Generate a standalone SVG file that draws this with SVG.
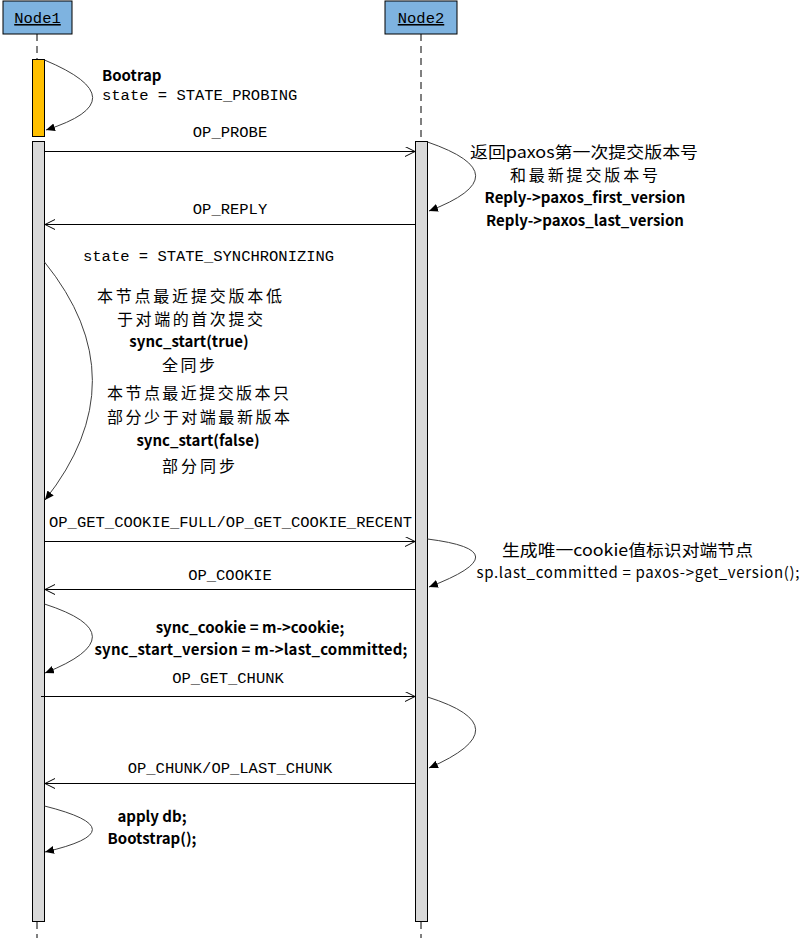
<svg xmlns="http://www.w3.org/2000/svg" width="800" height="938" viewBox="0 0 800 938">
<defs>
<marker id="open" markerWidth="12" markerHeight="12" refX="10" refY="5" orient="auto" markerUnits="userSpaceOnUse">
<path d="M0,0 L10,5 L0,10" fill="none" stroke="#000" stroke-width="1"/>
</marker>
<marker id="filled" markerWidth="10" markerHeight="10" refX="9" refY="4" orient="auto" markerUnits="userSpaceOnUse">
<path d="M0,0 L9,4 L0,8 Z" fill="#000"/>
</marker>
</defs>
<style>
.box{fill:#7EB3E0;stroke:#000;stroke-width:1}
.life{stroke:#000;stroke-width:1;stroke-dasharray:7 5}
.act{fill:#D9D9D9;stroke:#000;stroke-width:1}
.msg{stroke:#000;stroke-width:1;fill:none;marker-end:url(#open)}
.loop{stroke:#404040;stroke-width:1;fill:none;marker-end:url(#filled)}
.mono{font-family:"Liberation Mono","DejaVu Sans Mono",monospace;font-size:15.5px;fill:#000}
.cn{font-family:"Noto Sans CJK SC","Noto Sans",sans-serif;font-size:15px;fill:#000;text-anchor:middle}
.zh{font-size:16px}
.b{font-weight:600}
.mid{text-anchor:middle}
</style>
<rect width="800" height="938" fill="#fff"/>
<g id="node1">
<line class="life" x1="37" y1="34" x2="37" y2="938"/>
<rect class="box" x="3" y="1" width="69" height="33"/>
<text class="mono mid" x="37.5" y="23" text-decoration="underline">Node1</text>
<rect x="32.5" y="59.5" width="12" height="77" fill="#FFC000" stroke="#000"/>
<rect class="act" x="32.5" y="141.5" width="12" height="780"/>
</g>
<g id="node2">
<line class="life" x1="421" y1="34" x2="421" y2="938"/>
<rect class="box" x="385" y="1" width="72" height="33"/>
<text class="mono mid" x="421" y="23" text-decoration="underline">Node2</text>
<rect class="act" x="415.5" y="141.5" width="12" height="780"/>
</g>
<g id="connectors">
<path class="loop" d="M44.5,60 Q140,100 46,130"/>
<line class="msg" x1="45" y1="151.5" x2="415" y2="151.5"/>
<path class="loop" d="M427.5,142 Q523,175 429,211"/>
<line class="msg" x1="415" y1="224.5" x2="45" y2="224.5"/>
<path class="loop" d="M44.5,262 Q140,380 45,500"/>
<line class="msg" x1="45" y1="541.5" x2="415" y2="541.5"/>
<path class="loop" d="M427.5,539 Q523,551 429,587"/>
<line class="msg" x1="415" y1="589.5" x2="45" y2="589.5"/>
<path class="loop" d="M44.5,604 Q140,635 45,673"/>
<line class="msg" x1="41" y1="696.5" x2="415" y2="696.5"/>
<path class="loop" d="M427.5,697 Q523,727 429,768"/>
<line class="msg" x1="415" y1="783.5" x2="45" y2="783.5"/>
<path class="loop" d="M44.5,806 Q140,830 45,852"/>
</g>
<g id="labels">
<text class="cn b" x="102" y="81" style="text-anchor:start">Bootrap</text>
<text class="mono" x="102" y="100">state = STATE_PROBING</text>
<text class="mono mid" x="230" y="137">OP_PROBE</text>
<text class="cn zh" x="584" y="158" textLength="228" lengthAdjust="spacingAndGlyphs">返回paxos第一次提交版本号</text>
<text class="cn zh" x="584" y="181" textLength="148">和最新提交版本号</text>
<text class="cn b" x="585" y="203">Reply-&gt;paxos_first_version</text>
<text class="cn b" x="585" y="226">Reply-&gt;paxos_last_version</text>
<text class="mono mid" x="230" y="214">OP_REPLY</text>
<text class="mono" x="83" y="261">state = STATE_SYNCHRONIZING</text>
<text class="cn zh" x="189.5" y="302" textLength="185">本节点最近提交版本低</text>
<text class="cn zh" x="190" y="325" textLength="146">于对端的首次提交</text>
<text class="cn b" x="189" y="347">sync_start(true)</text>
<text class="cn zh" x="188.5" y="371" textLength="53">全同步</text>
<text class="cn zh" x="198" y="399" textLength="182">本节点最近提交版本只</text>
<text class="cn zh" x="198.5" y="423" textLength="183">部分少于对端最新版本</text>
<text class="cn b" x="198" y="446">sync_start(false)</text>
<text class="cn zh" x="198.5" y="472" textLength="73">部分同步</text>
<text class="mono" x="49" y="527" textLength="363">OP_GET_COOKIE_FULL/OP_GET_COOKIE_RECENT</text>
<text class="cn zh" x="627.5" y="556" textLength="251" lengthAdjust="spacingAndGlyphs">生成唯一cookie值标识对端节点</text>
<text class="cn" x="638" y="578" textLength="323">sp.last_committed = paxos-&gt;get_version();</text>
<text class="mono mid" x="230" y="580">OP_COOKIE</text>
<text class="cn b" x="250" y="633">sync_cookie = m-&gt;cookie;</text>
<text class="cn b" x="251" y="655" textLength="313">sync_start_version = m-&gt;last_committed;</text>
<text class="mono mid" x="228" y="683">OP_GET_CHUNK</text>
<text class="mono mid" x="230" y="773">OP_CHUNK/OP_LAST_CHUNK</text>
<text class="cn b" x="152" y="822">apply db;</text>
<text class="cn b" x="152" y="844">Bootstrap();</text>
</g>
</svg>
